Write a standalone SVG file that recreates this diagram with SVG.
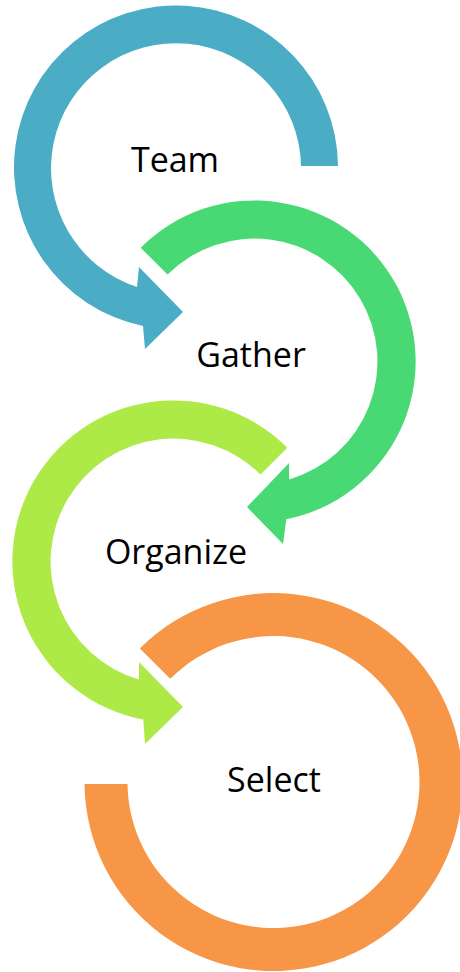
<svg xmlns="http://www.w3.org/2000/svg" width="460" height="972" viewBox="0 0 460 972">
<style>
.lbl{font-family:"Open Sans","Noto Sans","Liberation Sans",sans-serif;font-size:34px;fill:#000;text-anchor:middle}
.blue{fill:#4BACC6}
.green{fill:#49D974}
.lime{fill:#AEEA47}
.orange{fill:#F79646}
</style>
<rect width="460" height="972" fill="#fff"/>
<g id="node-team">
<path class="blue" d="M338,166 A162,162 0 1 0 143,326 L145,349 L183,312 L139,267 L137,287 A125,125 0 1 1 301,166 Z"/>
<text class="lbl" x="175" y="172">Team</text>
</g>
<g id="node-gather">
<path class="green" d="M140.7,247.7 A161,161 0 1 1 286.3,519.3 L283,544 L247,507 L289,463 L289.2,479.5 A123,123 0 1 0 167.5,274.5 Z"/>
<text class="lbl" x="251" y="367">Gather</text>
</g>
<g id="node-organize">
<path class="lime" d="M287.3,447.7 A161,161 0 1 0 143.3,719.6 L145,744 L183,707 L139,662 L139,679.6 A123,123 0 1 1 260.5,474.5 Z"/>
<text class="lbl" x="176" y="564">Organize</text>
</g>
<g id="node-select">
<path class="orange" d="M139.9,648.4 A189,189 0 1 1 84.5,784 L127.5,784 A146,146 0 1 0 170.3,678.8 Z"/>
<text class="lbl" x="274" y="792">Select</text>
</g>
<g id="connectors"></g>
</svg>
